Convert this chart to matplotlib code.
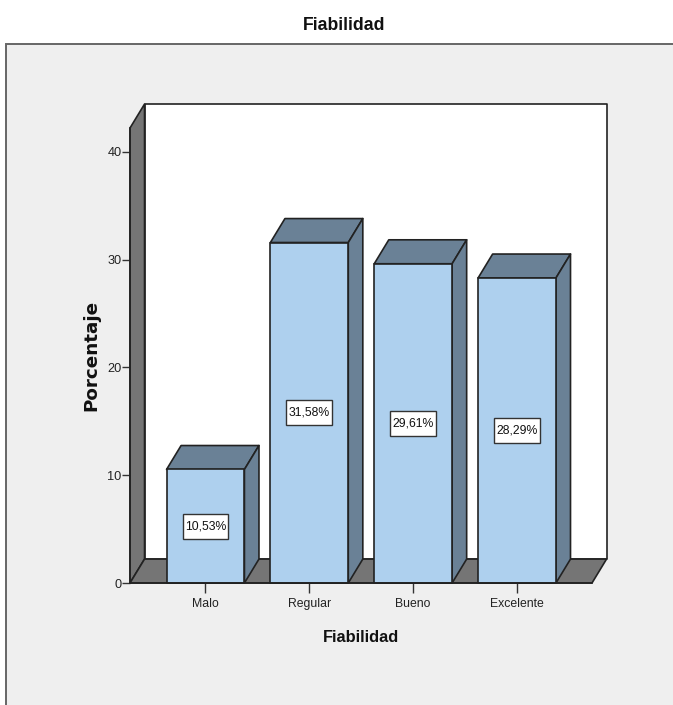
import matplotlib
matplotlib.use('Agg')
from matplotlib import pyplot as plt
from matplotlib.patches import Polygon, Rectangle

plt.rcParams['font.family'] = ['Liberation Sans', 'DejaVu Sans']

categorias = ['Malo', 'Regular', 'Bueno', 'Excelente']
porcentajes = [10.53, 31.58, 29.61, 28.29]
etiquetas = ['10,53%', '31,58%', '29,61%', '28,29%']
marcas_y = [0, 10, 20, 30, 40]

W, H = 673, 705
AZUL = '#aed0ee'
AZUL_OSCURO = '#6a8196'
GRIS = '#757575'
FONDO = '#efefef'
LINEA = '#222222'

# profundidad de la caja 3D, en unidades de datos
DX = 0.14
DY = 2.22
ANCHO = 0.75
X0, X1 = -0.727, 3.722
Y1 = 42.2
# recuadro de las etiquetas de valor
CAJA_W = 0.44
CAJA_H = 2.35


def cara(ax, puntos, color):
    p = Polygon(puntos, closed=True, facecolor=color, edgecolor=LINEA,
                linewidth=1.2, clip_on=False, joinstyle='round')
    ax.add_patch(p)
    return p


fig = plt.figure(figsize=(W / 100, H / 100), dpi=100, facecolor='white')

# panel gris detras del grafico
fig.patches.append(Rectangle((6 / W, -0.01), 1, 1.01 - 44 / H, transform=fig.transFigure,
                             facecolor=FONDO, edgecolor='#666666', linewidth=1.4, zorder=-1))
fig.text(344 / W, 1 - 26 / H, 'Fiabilidad', ha='center', va='center', fontsize=12.7,
         fontweight='bold', color='#111111')

ax = fig.add_axes([130 / W, 1 - 583 / H, 462 / W, 455 / H])
ax.set_xlim(X0, X1)
ax.set_ylim(0, Y1)
ax.patch.set_visible(False)

# pared del fondo, pared lateral y suelo
cara(ax, [(X0 + DX, DY), (X1 + DX, DY), (X1 + DX, Y1 + DY), (X0 + DX, Y1 + DY)], 'white')
cara(ax, [(X0, 0), (X0 + DX, DY), (X0 + DX, Y1 + DY), (X0, Y1)], GRIS)
cara(ax, [(X0, 0), (X1, 0), (X1 + DX, DY), (X0 + DX, DY)], GRIS)

for i, v in enumerate(porcentajes):
    iz = i - ANCHO / 2
    de = i + ANCHO / 2
    # techo y lateral de cada barra
    cara(ax, [(iz, v), (de, v), (de + DX, v + DY), (iz + DX, v + DY)], AZUL_OSCURO)
    cara(ax, [(de, 0), (de + DX, DY), (de + DX, v + DY), (de, v)], AZUL_OSCURO)

ax.bar(range(len(categorias)), porcentajes, width=ANCHO, color=AZUL, edgecolor=LINEA,
       linewidth=1.2, zorder=3, clip_on=False)

for i, (v, t) in enumerate(zip(porcentajes, etiquetas)):
    ax.add_patch(Rectangle((i - CAJA_W / 2, v / 2 - CAJA_H / 2), CAJA_W, CAJA_H, facecolor='white',
                           edgecolor='#333333', linewidth=1, zorder=4))
    ax.text(i, v / 2, t, ha='center', va='center', fontsize=8.8, color='#111111', zorder=5)

for s in ['top', 'right']:
    ax.spines[s].set_visible(False)
for s in ['left', 'bottom']:
    ax.spines[s].set_color(LINEA)
    ax.spines[s].set_linewidth(1.2)
    ax.spines[s].set_zorder(4)

ax.set_xticks(range(len(categorias)))
ax.set_xticklabels(categorias)
ax.set_yticks(marcas_y)
ax.tick_params(axis='x', length=7, width=1, color='#333333', labelsize=8.8, labelcolor='#222222', pad=3.5)
ax.tick_params(axis='y', length=6, width=1, color='#333333', labelsize=9.2, labelcolor='#222222', pad=0)

fig.text(361 / W, 1 - 637 / H, 'Fiabilidad', ha='center', va='center', fontsize=11.8,
         fontweight='bold', color='#111111')
fig.text(91 / W, 1 - 355.5 / H, 'Porcentaje', ha='center', va='center', rotation=90, fontsize=13.2,
         fontweight='bold', color='#111111', family='DejaVu Sans')

fig.savefig('out.png', dpi=100)
